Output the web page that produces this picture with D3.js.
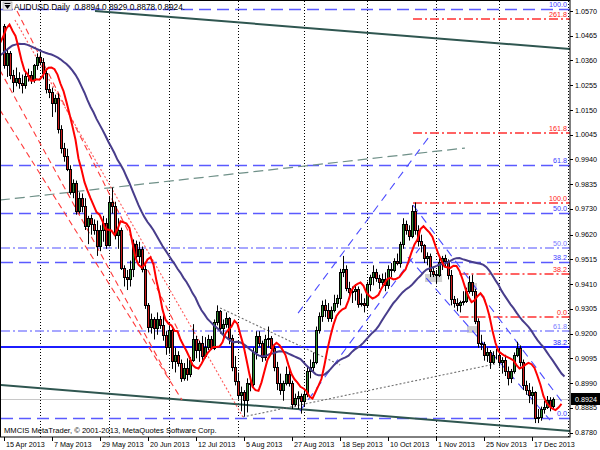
<!DOCTYPE html>
<html><head><meta charset="utf-8">
<script src="https://cdn.jsdelivr.net/npm/d3@7"></script>
<style>body{margin:0;background:#fff}svg{display:block}</style>
</head><body>
<svg id="chart" width="600" height="450"></svg>
<script>
// ---------------- DATA ----------------
const symbol = "AUDUSD.Daily";
const lastOHLC = ["0.8894", "0.8929", "0.8878", "0.8924"];
const lastPrice = 0.8924;
const copyright = "MMCIS MetaTrader, \u00A9 2001-2013, MetaQuotes Software Corp.";

const priceTicks = [1.0570,1.0465,1.0360,1.0255,1.0150,1.0045,0.9940,0.9835,0.9730,0.9620,0.9515,0.9410,0.9305,0.9200,0.9095,0.8990,0.8885,0.8780];
const dateLabels = ["15 Apr 2013","7 May 2013","29 May 2013","20 Jun 2013","12 Jul 2013","5 Aug 2013","27 Aug 2013","18 Sep 2013","10 Oct 2013","1 Nov 2013","25 Nov 2013","17 Dec 2013"];
const dateLabelBars = [0,16,32,48,64,80,96,112,128,144,160,176];
const monthGridBars = [12,35,55,78,100,121,144,165,188];

// closes before the visible window (for the moving averages)
const preClose = [1.0235,1.0260,1.0270,1.0265,1.0245,1.0300,1.0310,1.0290,1.0370,1.0405,1.0410,1.0440,1.0460,1.0425,1.0465,1.0480,1.0445,1.0445,1.0420,1.0430,1.0445,1.0450,1.0410,1.0380,1.0430,1.0470,1.0500,1.0545,1.0540,1.0505];

const open = [
1.0505,1.0340,1.0390,1.0300,1.0270, 1.0285,1.0265,1.0255,1.0295,1.0300, 1.0275,1.0340,1.0375,1.0355,1.0305,
1.0240,1.0225,1.0180,1.0200,1.0070, 0.9990,0.9955,0.9900,0.9800,0.9840, 0.9720,0.9775,0.9740,0.9655,0.9690,
0.9665,0.9640,0.9570,0.9640,0.9670, 0.9575,0.9760,0.9740,0.9620,0.9640, 0.9480,0.9440,0.9430,0.9475,0.9580,
0.9530,0.9560,0.9475,0.9320,0.9230, 0.9260,0.9225,0.9260,0.9235,0.9195, 0.9145,0.9215,0.9085,0.9110,0.9075,
0.9010,0.9055,0.9030,0.9090,0.9175, 0.9130,0.9160,0.9105,0.9145,0.9175, 0.9140,0.9250,0.9295,0.9225,0.9240,
0.9265,0.9180,0.9060,0.9000,0.8940, 0.8950,0.8920,0.8990,0.8985,0.9120, 0.9190,0.9160,0.9100,0.9175,0.9180,
0.9140,0.9060,0.8990,0.8960,0.8990, 0.9030,0.8990,0.8900,0.8925,0.8935, 0.8915,0.8945,0.9040,0.9060,0.9080,
0.9215,0.9275,0.9320,0.9300,0.9265, 0.9300,0.9330,0.9350,0.9460,0.9475, 0.9395,0.9375,0.9380,0.9390,0.9325,
0.9330,0.9320,0.9410,0.9440,0.9460, 0.9435,0.9420,0.9430,0.9405,0.9475, 0.9470,0.9510,0.9500,0.9580,0.9665,
0.9640,0.9615,0.9720,0.9640,0.9595, 0.9575,0.9520,0.9530,0.9465,0.9455, 0.9450,0.9505,0.9520,0.9510,0.9450,
0.9345,0.9330,0.9320,0.9335,0.9340, 0.9380,0.9420,0.9380,0.9255,0.9160, 0.9155,0.9110,0.9120,0.9080,0.9110,
0.9110,0.9080,0.9090,0.9040,0.9010, 0.9040,0.9110,0.9140,0.9080,0.8980, 0.8960,0.8940,0.8950,0.8840,0.8845,
0.8880,0.8890,0.8920,0.8894];
const high = [
1.0515,1.0405,1.0400,1.0320,1.0330, 1.0310,1.0300,1.0310,1.0325,1.0315, 1.0345,1.0390,1.0395,1.0370,1.0325,
1.0260,1.0245,1.0215,1.0220,1.0085, 1.0010,0.9985,0.9915,0.9855,0.9850, 0.9800,0.9795,0.9775,0.9700,0.9705,
0.9685,0.9680,0.9660,0.9700,0.9690, 0.9780,0.9820,0.9760,0.9690,0.9650, 0.9490,0.9470,0.9510,0.9600,0.9595,
0.9590,0.9570,0.9490,0.9330,0.9285, 0.9270,0.9290,0.9275,0.9285,0.9210, 0.9235,0.9220,0.9140,0.9125,0.9090,
0.9075,0.9095,0.9100,0.9240,0.9190, 0.9170,0.9190,0.9185,0.9195,0.9190, 0.9260,0.9320,0.9300,0.9260,0.9290,
0.9270,0.9195,0.9105,0.9035,0.8975, 0.8960,0.9010,0.9020,0.9140,0.9210, 0.9210,0.9170,0.9195,0.9230,0.9190,
0.9150,0.9080,0.9030,0.9000,0.9060, 0.9050,0.9000,0.8945,0.8955,0.8945, 0.8960,0.9060,0.9090,0.9120,0.9230,
0.9290,0.9340,0.9345,0.9330,0.9315, 0.9365,0.9365,0.9475,0.9530,0.9490, 0.9420,0.9400,0.9410,0.9400,0.9370,
0.9350,0.9420,0.9450,0.9490,0.9475, 0.9450,0.9455,0.9460,0.9490,0.9500, 0.9520,0.9540,0.9590,0.9690,0.9680,
0.9660,0.9745,0.9757,0.9660,0.9620, 0.9580,0.9545,0.9540,0.9480,0.9470, 0.9520,0.9530,0.9535,0.9515,0.9470,
0.9360,0.9350,0.9340,0.9380,0.9395, 0.9445,0.9450,0.9390,0.9265,0.9195, 0.9165,0.9140,0.9130,0.9125,0.9135,
0.9140,0.9100,0.9110,0.9060,0.9050, 0.9120,0.9165,0.9150,0.9090,0.9000, 0.8990,0.8975,0.8955,0.8880,0.8890,
0.8915,0.8935,0.8930,0.8929];
const low = [
1.0325,1.0290,1.0280,1.0225,1.0250, 1.0240,1.0220,1.0240,1.0270,1.0260, 1.0265,1.0320,1.0340,1.0280,1.0220,
1.0200,1.0120,1.0140,1.0050,0.9965, 0.9930,0.9890,0.9790,0.9775,0.9705, 0.9710,0.9715,0.9640,0.9580,0.9620,
0.9620,0.9530,0.9550,0.9590,0.9560, 0.9570,0.9710,0.9600,0.9560,0.9470, 0.9400,0.9385,0.9400,0.9440,0.9505,
0.9500,0.9460,0.9305,0.9205,0.9200, 0.9175,0.9195,0.9220,0.9170,0.9110, 0.9115,0.9050,0.9035,0.9060,0.8995,
0.9000,0.9000,0.9015,0.9080,0.9095, 0.9080,0.9080,0.9095,0.9130,0.9130, 0.9130,0.9235,0.9200,0.9180,0.9225,
0.9155,0.9040,0.8980,0.8920,0.8870, 0.8848,0.8865,0.8955,0.8975,0.9090, 0.9145,0.9080,0.9085,0.9140,0.9120,
0.9040,0.8960,0.8940,0.8915,0.8980, 0.8975,0.8880,0.8890,0.8880,0.8860, 0.8890,0.8930,0.9010,0.9040,0.9070,
0.9200,0.9250,0.9270,0.9250,0.9250, 0.9290,0.9310,0.9320,0.9440,0.9380, 0.9350,0.9330,0.9340,0.9310,0.9315,
0.9290,0.9310,0.9380,0.9405,0.9420, 0.9390,0.9400,0.9380,0.9390,0.9440, 0.9460,0.9490,0.9480,0.9560,0.9620,
0.9595,0.9605,0.9620,0.9570,0.9545, 0.9500,0.9490,0.9440,0.9440,0.9410, 0.9440,0.9470,0.9480,0.9430,0.9320,
0.9310,0.9295,0.9290,0.9320,0.9330, 0.9370,0.9360,0.9240,0.9140,0.9130, 0.9085,0.9080,0.9050,0.9070,0.9090,
0.9060,0.9030,0.9020,0.8980,0.8990, 0.9030,0.9100,0.9060,0.8960,0.8940, 0.8905,0.8900,0.8820,0.8820,0.8830,
0.8860,0.8880,0.8870,0.8878];
const close = [
1.0340,1.0390,1.0300,1.0270,1.0285, 1.0265,1.0255,1.0295,1.0300,1.0275, 1.0340,1.0375,1.0355,1.0305,1.0240,
1.0225,1.0180,1.0200,1.0070,0.9990, 0.9955,0.9900,0.9800,0.9840,0.9720, 0.9775,0.9740,0.9655,0.9690,0.9665,
0.9640,0.9570,0.9640,0.9670,0.9575, 0.9760,0.9740,0.9620,0.9640,0.9480, 0.9440,0.9430,0.9475,0.9580,0.9530,
0.9560,0.9475,0.9320,0.9230,0.9260, 0.9225,0.9260,0.9235,0.9195,0.9145, 0.9215,0.9085,0.9110,0.9075,0.9010,
0.9055,0.9030,0.9090,0.9175,0.9130, 0.9160,0.9105,0.9145,0.9175,0.9140, 0.9250,0.9295,0.9225,0.9240,0.9265,
0.9180,0.9060,0.9000,0.8940,0.8950, 0.8920,0.8990,0.8985,0.9120,0.9190, 0.9160,0.9100,0.9175,0.9180,0.9140,
0.9060,0.8990,0.8960,0.8990,0.9030, 0.8990,0.8900,0.8925,0.8935,0.8915, 0.8945,0.9040,0.9060,0.9080,0.9215,
0.9275,0.9320,0.9300,0.9265,0.9300, 0.9330,0.9350,0.9460,0.9475,0.9395, 0.9375,0.9380,0.9390,0.9325,0.9330,
0.9320,0.9410,0.9440,0.9460,0.9435, 0.9420,0.9430,0.9405,0.9475,0.9470, 0.9510,0.9500,0.9580,0.9665,0.9640,
0.9615,0.9720,0.9640,0.9595,0.9575, 0.9520,0.9530,0.9465,0.9455,0.9450, 0.9505,0.9520,0.9510,0.9450,0.9345,
0.9330,0.9320,0.9335,0.9340,0.9380, 0.9420,0.9380,0.9255,0.9160,0.9155, 0.9110,0.9120,0.9080,0.9110,0.9110,
0.9080,0.9090,0.9040,0.9010,0.9040, 0.9110,0.9140,0.9080,0.8980,0.8960, 0.8940,0.8950,0.8840,0.8845,0.8880,
0.8890,0.8920,0.8894,0.8924];

const fastPeriod = 5, fastShift = 3;
const slowPeriod = 26, slowShift = 4;

// Fibonacci objects: price at 0%, price at 100%, [level, start bar]
const fibBlue = {p0: 0.8843, p100: 1.0578, levels: [[0, -2], [38.2, -2], [50, -2], [61.8, -2], [100, -2]]};
const fibRed = {p0: 0.9270, p100: 0.9754, levels: [[0, 152], [38.2, 152], [100, 136.5], [161.8, 136.5], [261.8, 136.5]]};
// single labelled horizontal levels: [label, price]
const extraLevelsLight = [["50.0", 0.9564], ["61.8", 0.9211]];
const extraLevelThick = [["38.2", 0.9141]];

// trend lines: [bar1, price1, bar2, price2]
const channelLines = [[30.5, 1.0570, 188.8, 1.0409], [-1.2, 0.8982, 188.8, 0.8786]];
const greyLongDash = [[-1.2, 0.9767, 153.8, 0.9988]];
const redDashed = [[4.5, 1.0570, 58.2, 0.9215], [-1.2, 1.0319, 55.5, 0.9003], [-1.2, 1.0150, 59.5, 0.8918]];
const redDotted = [[3.8, 1.0532, 79.8, 0.8846]];
const blueDashed = [[98.8, 0.8871, 138.8, 0.9564], [98.2, 0.9287, 142.8, 1.0052], [136.5, 0.9746, 186.5, 0.8905], [134.8, 0.9525, 182.2, 0.8833]];
const greyDotted = [[79.8, 0.8846, 163.8, 0.9071], [72.2, 0.9309, 112.2, 0.9067]];
const greyBoxes = [[140.5, 0.9453, 146.2, 0.9419], [154.5, 0.9415, 157.8, 0.9385], [154.5, 0.9232, 158.8, 0.9203]];

// ---------------- DRAW ----------------
const svg = d3.select("#chart");
const L = 1, T = 1, R = 570, B = 437;
const x = d3.scaleLinear().domain([0, 1]).range([3.5, 6.5]);
const y = d3.scaleLinear().domain([0.87609, 1.06125]).range([B, T]);
const font = "'Liberation Sans', Arial, sans-serif";

svg.append("rect").attr("width", 600).attr("height", 450).attr("fill", "#fff");
svg.append("clipPath").attr("id", "clip").append("rect")
  .attr("x", L).attr("y", T).attr("width", R - L).attr("height", B - T);
const g = svg.append("g").attr("clip-path", "url(#clip)");

// vertical month grid (dotted)
g.selectAll(null).data(monthGridBars).join("line")
  .attr("x1", d => Math.round(x(d)) + 0.5).attr("x2", d => Math.round(x(d)) + 0.5)
  .attr("y1", T).attr("y2", B)
  .attr("stroke", "#000").attr("stroke-width", 1).attr("stroke-dasharray", "1,2");

function seg(sel, lines, color, w, dash) {
  sel.selectAll(null).data(lines).join("line")
    .attr("x1", d => x(d[0])).attr("y1", d => y(d[1]))
    .attr("x2", d => x(d[2])).attr("y2", d => y(d[3]))
    .attr("stroke", color).attr("stroke-width", w)
    .attr("stroke-dasharray", dash);
}
function ray(sel, lines, color, w, dash) {
  sel.selectAll(null).data(lines).join("line")
    .attr("x1", d => x(d[0])).attr("y1", d => y(d[1]))
    .attr("x2", R + 5)
    .attr("y2", d => { const s = (y(d[3]) - y(d[1])) / (x(d[2]) - x(d[0])); return y(d[1]) + s * (R + 5 - x(d[0])); })
    .attr("stroke", color).attr("stroke-width", w)
    .attr("stroke-dasharray", dash);
}

// bid line
g.append("line").attr("x1", L).attr("x2", R).attr("y1", Math.round(y(lastPrice)) + 0.5).attr("y2", Math.round(y(lastPrice)) + 0.5)
  .attr("stroke", "#c8c8c8").attr("stroke-width", 1);

// grey boxes
g.selectAll(null).data(greyBoxes).join("rect")
  .attr("x", d => x(d[0])).attr("y", d => y(d[1]))
  .attr("width", d => x(d[2]) - x(d[0])).attr("height", d => y(d[3]) - y(d[1]))
  .attr("fill", "#d0d0d0");

const fibLevelPrice = (f, lv) => f.p0 + (f.p100 - f.p0) * lv / 100;
const hy = p => Math.round(y(p)) + 0.5;
g.selectAll(null).data(fibBlue.levels).join("line")
  .attr("x1", d => Math.max(L, x(d[1]))).attr("x2", R)
  .attr("y1", d => hy(fibLevelPrice(fibBlue, d[0]))).attr("y2", d => hy(fibLevelPrice(fibBlue, d[0])))
  .attr("stroke", "#5a5aff").attr("stroke-width", 1.4).attr("stroke-dasharray", "12,6");
g.selectAll(null).data(fibRed.levels).join("line")
  .attr("x1", d => x(d[1])).attr("x2", R)
  .attr("y1", d => Math.round(y(fibLevelPrice(fibRed, d[0])))).attr("y2", d => Math.round(y(fibLevelPrice(fibRed, d[0]))))
  .attr("stroke", "#ff3030").attr("stroke-width", 1.3).attr("stroke-dasharray", "9,3,2,3");
g.selectAll(null).data(extraLevelsLight).join("line")
  .attr("x1", L).attr("x2", R)
  .attr("y1", d => Math.round(y(d[1]))).attr("y2", d => Math.round(y(d[1])))
  .attr("stroke", "#8a8aff").attr("stroke-width", 1.3).attr("stroke-dasharray", "9,3,2,3");
g.selectAll(null).data(extraLevelThick).join("line")
  .attr("x1", L).attr("x2", R)
  .attr("y1", d => Math.round(y(d[1]))).attr("y2", d => Math.round(y(d[1])))
  .attr("stroke", "#1c1cff").attr("stroke-width", 2);

// trendlines
seg(g, greyLongDash, "#6f9088", 1.2, "10,5");
ray(g, channelLines, "#2f5650", 2, null);
seg(g, redDashed, "#ff3b3b", 1.1, "6,4");
seg(g, redDotted, "#ff5a5a", 1.1, "2,2");
seg(g, blueDashed, "#4a4aff", 1.1, "8,6");
seg(g, greyDotted, "#707070", 1.1, "2,2");

// candles
const bars = d3.range(close.length);
const cx = i => Math.round(x(i)) + 0.5;
g.selectAll(null).data(bars).join("line")
  .attr("x1", cx).attr("x2", cx)
  .attr("y1", i => y(high[i])).attr("y2", i => y(low[i]))
  .attr("stroke", "#000").attr("stroke-width", 1);
g.selectAll(null).data(bars).join("rect")
  .attr("x", i => cx(i) - 1)
  .attr("y", i => Math.round(y(Math.max(open[i], close[i]))) + 0.5)
  .attr("width", 2)
  .attr("height", i => Math.max(0, Math.round(y(Math.min(open[i], close[i]))) - Math.round(y(Math.max(open[i], close[i])))))
  .attr("fill", i => close[i] >= open[i] ? "#2e8b2e" : "#cc1a1a")
  .attr("stroke", "#000").attr("stroke-width", 1);

// moving averages
const allClose = preClose.concat(close);
const off = preClose.length;
function maSeries(period, shift) {
  const pts = [];
  for (let j = -10; j < close.length + shift; j++) {
    const k = j + off - shift;
    if (k - period + 1 < 0 || k >= allClose.length) continue;
    pts.push([j, d3.mean(allClose.slice(k - period + 1, k + 1))]);
  }
  return pts;
}
const line = d3.line().x(d => x(d[0])).y(d => y(d[1]));
g.append("path").attr("d", line(maSeries(slowPeriod, slowShift)))
  .attr("fill", "none").attr("stroke", "#483d8b").attr("stroke-width", 2);
g.append("path").attr("d", line(maSeries(fastPeriod, fastShift)))
  .attr("fill", "none").attr("stroke", "#ff0000").attr("stroke-width", 2);

// level labels
function lvlLabel(txt, price, color) {
  svg.append("text").attr("x", 567).attr("y", Math.round(y(price)) - 2)
    .attr("text-anchor", "end").attr("font-family", font).attr("font-size", 7.2)
    .attr("fill", color).text(txt);
}
fibBlue.levels.forEach(l => lvlLabel(l[0].toFixed(1), fibLevelPrice(fibBlue, l[0]), "#3c3cff"));
fibRed.levels.forEach(l => lvlLabel(l[0].toFixed(1), fibLevelPrice(fibRed, l[0]), "#ff2020"));
extraLevelsLight.forEach(d => lvlLabel(d[0], d[1], "#7b7bff"));
extraLevelThick.forEach(d => lvlLabel(d[0], d[1], "#1c1cff"));

// frame
svg.append("rect").attr("x", 0.5).attr("y", 0.5).attr("width", R - 0.5).attr("height", B - 0.5)
  .attr("fill", "none").attr("stroke", "#000").attr("stroke-width", 1);

// right price axis
const ya = svg.append("g");
ya.selectAll("line").data(priceTicks).join("line")
  .attr("x1", R).attr("x2", R + 3)
  .attr("y1", d => Math.round(y(d)) + 0.5).attr("y2", d => Math.round(y(d)) + 0.5)
  .attr("stroke", "#000");
ya.selectAll("text").data(priceTicks).join("text")
  .attr("x", R + 5).attr("y", d => y(d) + 2.6)
  .attr("font-family", font).attr("font-size", 7.2).attr("fill", "#000")
  .text(d => d.toFixed(4));
const ly = Math.round(y(lastPrice));
svg.append("rect").attr("x", R + 1).attr("y", ly - 6).attr("width", 29).attr("height", 12).attr("fill", "#000");
svg.append("text").attr("x", R + 5).attr("y", ly + 2.6)
  .attr("font-family", font).attr("font-size", 7.2).attr("fill", "#fff").text(lastPrice.toFixed(4));

// bottom date axis
const xa = svg.append("g");
xa.selectAll("line").data(dateLabelBars).join("line")
  .attr("x1", d => Math.round(x(d)) + 0.5).attr("x2", d => Math.round(x(d)) + 0.5)
  .attr("y1", B).attr("y2", B + 4).attr("stroke", "#000");
xa.selectAll("text").data(dateLabels).join("text")
  .attr("x", (d, i) => Math.round(x(dateLabelBars[i])) + 2).attr("y", 447)
  .attr("font-family", font).attr("font-size", 7.2).attr("fill", "#000").text(d => d);

// title
svg.append("rect").attr("x", 3).attr("y", 2).attr("width", 9).attr("height", 8).attr("fill", "#e8e8e8").attr("stroke", "#888").attr("stroke-width", 0.5);
svg.append("path").attr("d", "M4.5,5 L10.5,5 L7.5,9 Z").attr("fill", "#000");
svg.append("line").attr("x1", 4.5).attr("x2", 10.5).attr("y1", 3.5).attr("y2", 3.5).attr("stroke", "#000");
svg.append("text").attr("x", 14).attr("y", 10).attr("font-family", font).attr("font-size", 8.3).attr("fill", "#000")
  .attr("xml:space", "preserve").text(symbol + "  " + lastOHLC.join(" ") + ".");
svg.append("text").attr("x", 4).attr("y", 433).attr("font-family", font).attr("font-size", 7.6).attr("fill", "#000").text(copyright);
</script>
</body></html>
